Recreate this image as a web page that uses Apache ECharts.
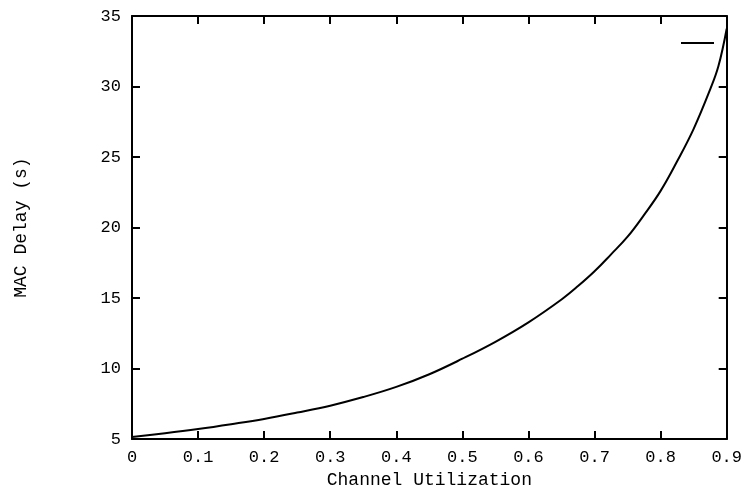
<!DOCTYPE html>
<html>
<head>
<meta charset="utf-8">
<script src="https://cdn.jsdelivr.net/npm/echarts@6/dist/echarts.min.js"></script>
<style>
html,body{margin:0;padding:0;background:#fff;}
#c{width:745px;height:494px;}
</style>
</head>
<body>
<div id="c"></div>
<script>
var utilization = [0, 0.05, 0.1, 0.15, 0.2, 0.25, 0.3, 0.35, 0.4, 0.45, 0.5, 0.55, 0.6, 0.65, 0.675, 0.7, 0.725, 0.75, 0.775, 0.8, 0.825, 0.85, 0.875, 0.8875, 0.9];
var macDelay = [5.15, 5.42, 5.72, 6.06, 6.43, 6.88, 7.37, 7.98, 8.7, 9.6, 10.7, 11.9, 13.28, 14.9, 15.85, 16.9, 18.1, 19.35, 20.9, 22.6, 24.7, 27.0, 29.8, 31.45, 34.1];
var xTicks = [0, 0.9, 0.1];
var yTicks = [5, 35, 5];

var font = 'Liberation Mono, DejaVu Sans Mono, monospace';
var pts = utilization.map(function (x, i) { return [x, macDelay[i]]; });

var chart = echarts.init(document.getElementById('c'), null, {renderer: 'canvas'});
var axisLine = {show: true, onZero: false, lineStyle: {color: '#000', width: 2}};
var tick = {show: true, inside: true, length: 8, lineStyle: {color: '#000', width: 2}};
chart.setOption({
  animation: false,
  backgroundColor: '#fff',
  grid: {left: 132, right: 16, top: 16, bottom: 54},
  legend: {
    show: true,
    left: 676, top: 37,
    itemWidth: 33, itemHeight: 2,
    icon: 'rect',
    formatter: function () { return ''; },
    itemGap: 0,
    textStyle: {fontSize: 12},
    data: [' ']
  },
  xAxis: [{
    type: 'value', min: xTicks[0], max: xTicks[1], interval: xTicks[2],
    position: 'bottom',
    name: 'Channel Utilization', nameLocation: 'middle', nameGap: 30,
    nameTextStyle: {fontFamily: font, fontSize: 18, color: '#000'},
    axisLine: axisLine, axisTick: tick,
    axisLabel: {fontFamily: font, fontSize: 17, color: '#000', margin: 10},
    splitLine: {show: false}
  }, {
    type: 'value', min: xTicks[0], max: xTicks[1], interval: xTicks[2],
    position: 'top',
    axisLine: axisLine, axisTick: tick,
    axisLabel: {show: false}, splitLine: {show: false}
  }],
  yAxis: [{
    type: 'value', min: yTicks[0], max: yTicks[1], interval: yTicks[2],
    position: 'left',
    name: 'MAC Delay (s)', nameLocation: 'middle', nameGap: 102, nameRotate: 90,
    nameTextStyle: {fontFamily: font, fontSize: 18, color: '#000'},
    axisLine: axisLine, axisTick: tick,
    axisLabel: {fontFamily: font, fontSize: 17, color: '#000', margin: 11},
    splitLine: {show: false}
  }, {
    type: 'value', min: yTicks[0], max: yTicks[1], interval: yTicks[2],
    position: 'right',
    axisLine: axisLine, axisTick: tick,
    axisLabel: {show: false}, splitLine: {show: false}
  }],
  series: [{
    name: ' ',
    type: 'line',
    data: pts,
    showSymbol: false,
    smooth: 0.4,
    lineStyle: {color: '#000', width: 2},
    itemStyle: {color: '#000'}
  }]
});
</script>
</body>
</html>
